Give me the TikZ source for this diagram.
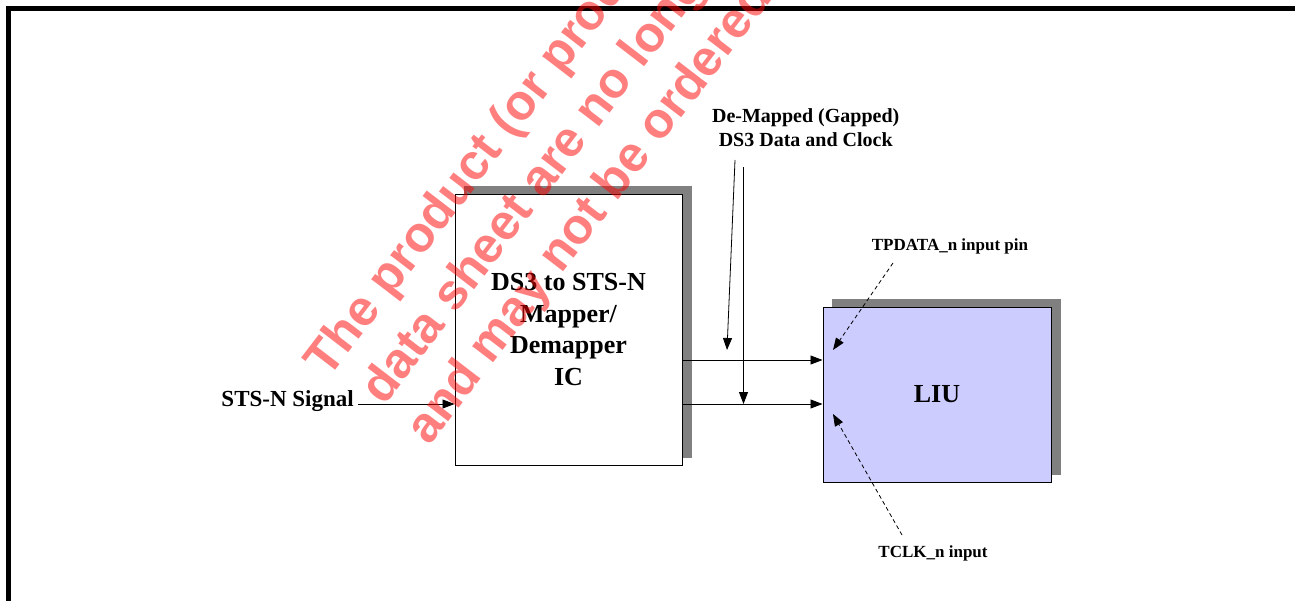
\documentclass[tikz,border=0pt]{standalone}
\usepackage{fontspec}
\setmainfont{Liberation Serif}
\newfontfamily\wmfont{Liberation Sans}
\usetikzlibrary{arrows.meta,backgrounds}
\definecolor{shadowgray}{HTML}{808080}
\definecolor{liufill}{HTML}{CCCCFF}
\begin{document}
\begin{tikzpicture}[x=1pt,y=-1pt,
  blockbox/.style={draw=black,line width=1pt,inner sep=0pt,align=center,
    font=\bfseries\fontsize{26}{31.5}\selectfont},
  bigl/.style={font=\bfseries\fontsize{23}{27}\selectfont,inner sep=0pt},
  midl/.style={font=\bfseries\fontsize{20}{24}\selectfont,inner sep=0pt,align=center},
  smalll/.style={font=\bfseries\fontsize{17}{20}\selectfont,inner sep=0pt},
  conn/.style={line width=0.8pt,-{Triangle[length=12pt,width=9pt]}},
  pointer/.style={conn,dash pattern=on 4pt off 3pt},
  wm/.style={text=red,opacity=0.5,font=\wmfont\bfseries\fontsize{50}{53}\selectfont,
    rotate=52.5,anchor=base west,inner sep=0pt}]
\useasboundingbox (0,0) rectangle (1295,600);
\clip (0,0) rectangle (1295,600);
% frame
\draw[line width=5.5pt] (8.5,640) -- (8.5,8.5) -- (1320,8.5);
% blocks
\node[blockbox,fill=white,minimum width=227pt,minimum height=271pt] (ic) at (568.5,329.5)
  {DS3 to STS-N\\Mapper/\\Demapper\\IC};
\node[blockbox,fill=liufill,minimum width=228pt,minimum height=175pt] (liu) at (937,394.5) {LIU};
\begin{scope}[on background layer]
  \fill[shadowgray] ([shift={(9,-8)}]ic.south west) rectangle ([shift={(9,-8)}]ic.north east);
  \fill[shadowgray] ([shift={(9,-8)}]liu.south west) rectangle ([shift={(9,-8)}]liu.north east);
\end{scope}
% labels
\node[bigl,anchor=base east] (sts) at (354,406) {STS-N Signal};
\node[midl] (dm) at (805.7,127.5) {De-Mapped (Gapped)\\DS3 Data and Clock};
\node[smalll,anchor=base] (tp) at (950,250.6) {TPDATA\_n input pin};
\node[smalll,anchor=base] (tc) at (933,557) {TCLK\_n input};
% coordinates
\coordinate (sIn) at (358,404);
\coordinate (rowA) at (0,360);
\coordinate (rowB) at (0,404);
\coordinate (dmA) at (735,160);
\coordinate (dmAend) at (727,350);
\coordinate (dmB) at (743.5,167);
\coordinate (dmBend) at (743.5,404);
\coordinate (tpA) at (893,263);
\coordinate (tpB) at (833,350);
\coordinate (tcA) at (902,535);
\coordinate (tcB) at (833,414);
% connectors
\draw[conn] (sIn) -- (sIn -| ic.west);
\draw[conn] (ic.east |- rowA) -- (liu.west |- rowA);
\draw[conn] (ic.east |- rowB) -- (liu.west |- rowB);
\draw[conn] (dmA) -- (dmAend);
\draw[conn] (dmB) -- (dmBend);
\draw[pointer] (tpA) -- (tpB);
\draw[pointer] (tcA) -- (tcB);
% watermark
\node[wm] (w1) at (328,380) {The product (or products)};
\node[wm] (w2) at (384,407) {data sheet are no longer};
\node[wm] (w3) at (429,447) {and may not be ordered (};
\end{tikzpicture}
\end{document}
